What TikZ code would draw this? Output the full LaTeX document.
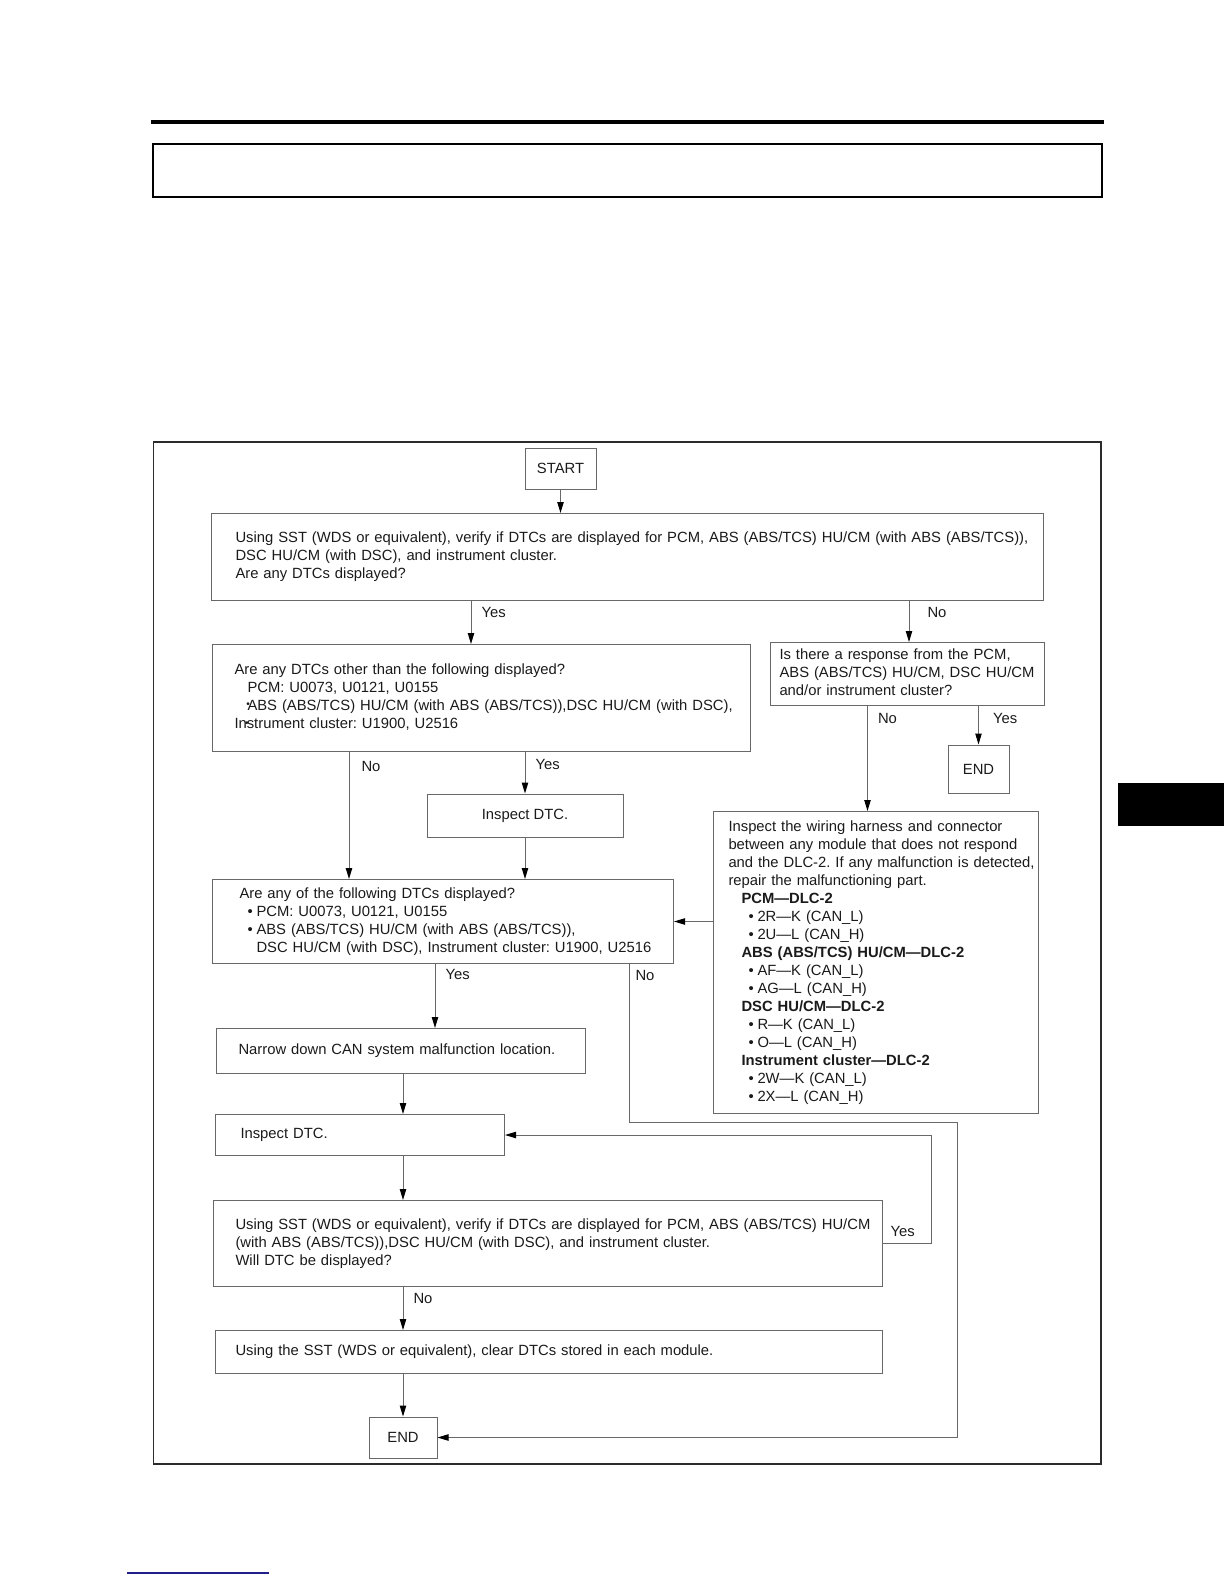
\documentclass[tikz,border=0pt]{standalone}
\usepackage{fontspec}
\setmainfont{Liberation Sans}
\usetikzlibrary{arrows.meta}
\definecolor{ln}{HTML}{686868}
\definecolor{ink}{HTML}{1A1A1A}
\definecolor{frm}{HTML}{2B2B2B}
\definecolor{lnk}{HTML}{20208C}
\newcommand{\rows}[1]{\begin{tabular}{@{}l@{}}#1\end{tabular}}
\newcommand{\itm}{\makebox[4.5bp][l]{•}}
\tikzset{
  box/.style={draw=ln,line width=.5bp,text=ink,font=\fontsize{7.4bp}{9bp}\selectfont\frenchspacing,inner ysep=0pt,anchor=north west,align=left},
  cbox/.style={box,anchor=center,align=center},
  lbl/.style={text=ink,font=\fontsize{7.4bp}{9bp}\selectfont,inner sep=1bp},
  ar/.style={draw=ln,line width=.5bp,-{Triangle[length=5.5bp,width=3.2bp,color=black]}},
}

\begin{document}
\begin{tikzpicture}[x=0.5bp,y=-0.5bp]
  \useasboundingbox (0,0) rectangle (1224,1584);
  % page furniture
  \draw[line width=1.8bp] (151,122) -- (1104,122);
  \draw[line width=1bp] (152.5,143.5) rectangle (1102,197);
  \fill (1118,783) rectangle (1224,826);
  \draw[lnk,line width=1bp] (127,1573) -- (269,1573);
  \draw[frm,line width=.9bp] (153.5,442) rectangle (1101,1464);

  % columns for the connectors
  \coordinate (cYes) at (471,0);
  \coordinate (cNo) at (909,0);
  \coordinate (cNoR) at (867.5,0);
  \coordinate (cA) at (349,0);
  \coordinate (cC) at (435,0);
  \coordinate (cE) at (403,0);
  \coordinate (noTurn) at (629,1122);
  \coordinate (noDown) at (957,1122);
  \coordinate (yesTurn) at (931,0);

  \node[cbox,minimum width=35.5bp,minimum height=20.5bp] (start) at (560.5,468.5) {START};
  \node[box,minimum height=43.5bp,inner xsep=12bp,text width=392bp] (b1) at (211,513)
    {\rows{Using SST (WDS or equivalent), verify if DTCs are displayed for PCM, ABS (ABS/TCS) HU/CM (with ABS (ABS/TCS)),\\
     DSC HU/CM (with DSC), and instrument cluster.\\
     Are any DTCs displayed?}};
  \node[box,minimum height=53.5bp,inner xsep=11bp,text width=247bp] (b2) at (212,644)
    {\rows{Are any DTCs other than the following displayed?\\
     \hspace*{6.5bp}PCM: U0073, U0121, U0155\\
     \hspace*{6.5bp}\llap{\raisebox{1.6bp}{\fontsize{5bp}{5bp}\selectfont•}\hspace{-1.2bp}}ABS (ABS/TCS) HU/CM (with ABS (ABS/TCS)),DSC HU/CM (with DSC),\\
     I\rlap{\hspace{3.2bp}\raisebox{1.2bp}{\fontsize{5bp}{5bp}\selectfont•}}nstrument cluster: U1900, U2516}};
  \node[box,minimum height=31.5bp,inner xsep=4.5bp,text width=128bp] (resp) at (770,642)
    {\rows{Is there a response from the PCM,\\
     ABS (ABS/TCS) HU/CM, DSC HU/CM\\
     and/or instrument cluster?}};
  \node[cbox,minimum width=30.5bp,minimum height=24bp] (end1) at (978.5,769) {END};
  \node[cbox,minimum width=98bp,minimum height=21.5bp] (inspA) at (525,815.5) {Inspect DTC.};
  \node[box,minimum height=151bp,inner xsep=7.5bp,text width=147.5bp] (wire) at (713,811)
    {\rows{Inspect the wiring harness and connector\\
     between any module that does not respond\\
     and the DLC-2. If any malfunction is detected,\\
     repair the malfunctioning part.\\
     \hspace*{6.5bp}\textbf{PCM—DLC-2}\\
     \hspace*{10bp}\itm 2R—K (CAN\_L)\\
     \hspace*{10bp}\itm 2U—L (CAN\_H)\\
     \hspace*{6.5bp}\textbf{ABS (ABS/TCS) HU/CM—DLC-2}\\
     \hspace*{10bp}\itm AF—K (CAN\_L)\\
     \hspace*{10bp}\itm AG—L (CAN\_H)\\
     \hspace*{6.5bp}\textbf{DSC HU/CM—DLC-2}\\
     \hspace*{10bp}\itm R—K (CAN\_L)\\
     \hspace*{10bp}\itm O—L (CAN\_H)\\
     \hspace*{6.5bp}\textbf{Instrument cluster—DLC-2}\\
     \hspace*{10bp}\itm 2W—K (CAN\_L)\\
     \hspace*{10bp}\itm 2X—L (CAN\_H)}};
  \node[box,minimum height=42bp,inner xsep=13.5bp,text width=203.5bp] (b3) at (212,879)
    {\rows{Are any of the following DTCs displayed?\\
     \hspace*{4bp}\itm PCM: U0073, U0121, U0155\\
     \hspace*{4bp}\itm ABS (ABS/TCS) HU/CM (with ABS (ABS/TCS)),\\
     \hspace*{8.5bp}DSC HU/CM (with DSC), Instrument cluster: U1900, U2516}};
  \node[box,minimum height=22.5bp,inner xsep=11bp,text width=162.5bp] (narrow) at (216,1028)
    {Narrow down CAN system malfunction location.};
  \node[box,minimum height=20.5bp,inner xsep=12.5bp,text width=119.5bp] (insp2) at (215,1114)
    {Inspect DTC.};
  \node[box,minimum height=43bp,inner xsep=11bp,text width=312.5bp] (b4) at (213,1200)
    {\rows{Using SST (WDS or equivalent), verify if DTCs are displayed for PCM, ABS (ABS/TCS) HU/CM\\
     (with ABS (ABS/TCS)),DSC HU/CM (with DSC), and instrument cluster.\\
     Will DTC be displayed?}};
  \node[box,minimum height=21.5bp,inner xsep=10bp,text width=313.5bp] (b5) at (215,1330)
    {Using the SST (WDS or equivalent), clear DTCs stored in each module.};
  \node[cbox,minimum width=34bp,minimum height=20.5bp] (end2) at (403,1437.5) {END};

  % connectors
  \draw[ar] (start) -- (start |- b1.north);
  \draw[ar] (b1.south -| cYes) -- node[lbl,right=4bp,pos=.27]{Yes} (b2.north -| cYes);
  \draw[ar] (b1.south -| cNo) -- node[lbl,right=8bp,pos=.29]{No} (resp.north -| cNo);
  \draw[ar] (resp.south -| cNoR) -- node[lbl,right=4bp,pos=.12]{No} (wire.north -| cNoR);
  \draw[ar] (resp.south -| end1) -- node[lbl,right=6bp,pos=.33]{Yes} (end1.north);
  \draw[ar] (b2.south -| cA) -- node[lbl,right=5bp,pos=.11]{No} (b3.north -| cA);
  \draw[ar] (b2.south -| inspA) -- node[lbl,right=4bp,pos=.3]{Yes} (inspA.north);
  \draw[ar] (inspA.south) -- (b3.north -| inspA);
  \draw[ar] (wire.west |- b3.east) -- (b3.east);
  \draw[ar] (b3.south -| cC) -- node[lbl,right=4bp,pos=.17]{Yes} (narrow.north -| cC);
  \draw[ar] (b3.south -| noTurn) -- node[lbl,right=2bp,pos=.07]{No} (noTurn) -- (noDown) |- (end2.east);
  \draw[ar] (narrow.south -| cE) -- (insp2.north -| cE);
  \draw[ar] (insp2.south -| cE) -- (b4.north -| cE);
  \draw[ar] (b4.east) -- node[lbl,above=2bp,pos=.41]{Yes} (b4.east -| yesTurn) |- (insp2.east);
  \draw[ar] (b4.south -| cE) -- node[lbl,right=4bp,pos=.27]{No} (b5.north -| cE);
  \draw[ar] (b5.south -| end2) -- (end2.north);
\end{tikzpicture}
\end{document}
